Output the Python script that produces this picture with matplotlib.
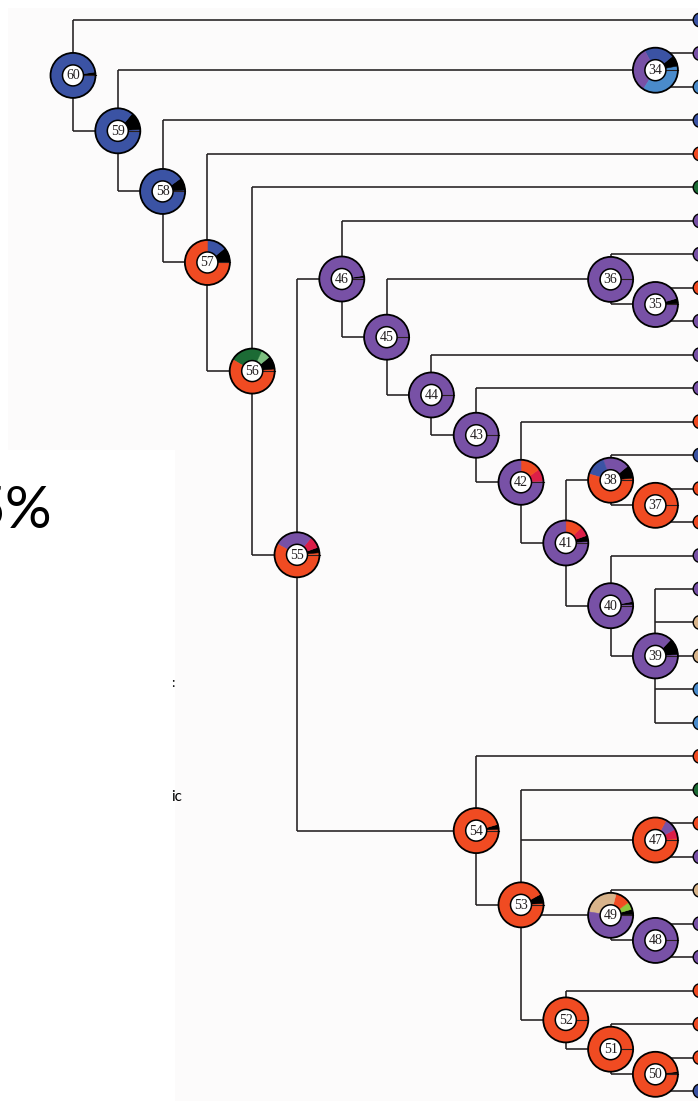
import matplotlib
matplotlib.use("Agg")
import matplotlib.pyplot as plt
from matplotlib.patches import Circle, Rectangle

# colours of the character states
BLUE = '#3b53a4'
LBLUE = '#4a8bcb'
PURPLE = '#7851a6'
ORANGE = '#f04b22'
CRIMSON = '#dc1f48'
GREEN = '#1c6b35'
LGREEN = '#7dbf80'
LIME = '#8cc63e'
TAN = '#d8b48b'
BLACK = '#000000'

# tips 1..33, top to bottom
tip_colors = [BLUE, PURPLE, LBLUE, BLUE, ORANGE, GREEN, PURPLE, PURPLE, ORANGE, PURPLE,
              PURPLE, PURPLE, ORANGE, BLUE, ORANGE, ORANGE, PURPLE, PURPLE, TAN, TAN,
              LBLUE, LBLUE, ORANGE, GREEN, ORANGE, PURPLE, TAN, PURPLE, PURPLE, ORANGE,
              ORANGE, ORANGE, BLUE]

# internal nodes and their children (top to bottom)
children = {
    60: [1, 59], 59: [34, 58], 34: [2, 3], 58: [4, 57], 57: [5, 56], 56: [6, 55],
    55: [46, 54], 46: [7, 45], 45: [36, 44], 36: [8, 35], 35: [9, 10],
    44: [11, 43], 43: [12, 42], 42: [13, 41], 41: [38, 40], 38: [14, 37],
    37: [15, 16], 40: [17, 39], 39: [18, 19, 20, 21, 22],
    54: [23, 53], 53: [24, 47, 49, 52], 47: [25, 26], 49: [27, 48], 48: [28, 29],
    52: [30, 51], 51: [31, 50], 50: [32, 33],
}
root = 60

# ancestral state probabilities, counter-clockwise from 3 o'clock
pie_colors = {
    60: [BLACK, BLUE],
    59: [BLUE, BLACK, BLUE],
    34: [LBLUE, BLACK, BLUE, PURPLE, LBLUE],
    58: [BLUE, BLACK, BLUE],
    57: [BLACK, BLUE, ORANGE],
    56: [ORANGE, BLACK, LGREEN, GREEN, ORANGE],
    55: [ORANGE, BLACK, CRIMSON, PURPLE, ORANGE],
    46: [PURPLE, BLACK, PURPLE],
    45: [PURPLE],
    36: [PURPLE],
    35: [PURPLE, BLACK, PURPLE],
    44: [PURPLE],
    43: [PURPLE],
    42: [PURPLE, CRIMSON, ORANGE, PURPLE],
    41: [PURPLE, BLACK, CRIMSON, ORANGE, PURPLE],
    38: [ORANGE, BLACK, PURPLE, BLUE, ORANGE],
    37: [ORANGE],
    40: [PURPLE, BLACK, PURPLE],
    39: [PURPLE, BLACK, PURPLE],
    54: [ORANGE, BLACK, ORANGE],
    53: [ORANGE, BLACK, ORANGE],
    47: [ORANGE, CRIMSON, PURPLE, ORANGE],
    49: [PURPLE, BLACK, LIME, ORANGE, TAN, PURPLE],
    48: [PURPLE],
    52: [ORANGE],
    51: [ORANGE],
    50: [ORANGE, BLACK, ORANGE],
}
pie_fracs = {
    60: [0.025, 0.975],
    59: [0.01, 0.13, 0.86],
    34: [0.03, 0.08, 0.22, 0.33, 0.34],
    58: [0.01, 0.09, 0.90],
    57: [0.11, 0.14, 0.75],
    56: [0.015, 0.095, 0.07, 0.235, 0.585],
    55: [0.015, 0.04, 0.085, 0.28, 0.58],
    46: [0.01, 0.015, 0.975],
    45: [1.0],
    36: [1.0],
    35: [0.005, 0.04, 0.955],
    44: [1.0],
    43: [1.0],
    42: [0.01, 0.09, 0.15, 0.75],
    41: [0.01, 0.045, 0.07, 0.125, 0.75],
    38: [0.015, 0.095, 0.195, 0.15, 0.545],
    37: [1.0],
    40: [0.01, 0.02, 0.97],
    39: [0.01, 0.12, 0.87],
    54: [0.01, 0.035, 0.955],
    53: [0.01, 0.07, 0.92],
    47: [0.01, 0.07, 0.09, 0.83],
    49: [0.005, 0.04, 0.055, 0.11, 0.265, 0.525],
    48: [1.0],
    52: [1.0],
    51: [1.0],
    50: [0.005, 0.015, 0.98],
}

# ---- layout (cladogram: x from height, y from tip order)
n_tips = len(tip_colors)
height = {}
def get_height(n):
    if n <= n_tips:
        return 0
    if n not in height:
        height[n] = 1 + max(get_height(c) for c in children[n])
    return height[n]
get_height(root)
max_h = height[root]

X0, DX = 73, 44.8          # pixel x of root and step per level
Y0, DY = 20, 33.47         # pixel y of first tip and tip spacing
pos = {}
def layout(n):
    if n <= n_tips:
        pos[n] = (X0 + DX * max_h, Y0 + DY * (n - 1))
    else:
        for c in children[n]:
            layout(c)
        ys = [pos[c][1] for c in children[n]]
        pos[n] = (X0 + DX * (max_h - height[n]), (min(ys) + max(ys)) / 2)
layout(root)

W, H = 698, 1101
fig = plt.figure(figsize=(W / 100, H / 100), dpi=100, facecolor='white')
ax = fig.add_axes([0, 0, 1, 1])

# page backgrounds (screenshot of a slide over the figure)
ax.add_patch(Rectangle((8, 8), W, H, facecolor='#fcfbfb', edgecolor='none', zorder=0))
ax.add_patch(Rectangle((0, 450), 175, H, facecolor='white', edgecolor='none', zorder=0))

line_kw = dict(color='#231f20', lw=1.15, zorder=1, solid_capstyle='butt')
for n, ch in children.items():
    x, y = pos[n]
    ys = [pos[c][1] for c in ch]
    ax.plot([x, x], [min(ys), max(ys)], **line_kw)
    for c in ch:
        ax.plot([x, pos[c][0]], [pos[c][1], pos[c][1]], **line_kw)

R_OUT, R_IN, R_TIP = 22.5, 10.5, 7
for n in children:
    x, y = pos[n]
    wedges, _ = ax.pie(pie_fracs[n], colors=pie_colors[n], center=(x, y), radius=R_OUT,
                       startangle=0, counterclock=False,
                       wedgeprops=dict(width=R_OUT - R_IN, linewidth=0.4))
    for w in wedges:
        w.set_edgecolor(w.get_facecolor())
        w.set_zorder(3)
    ax.plot([x + R_IN, x + R_OUT], [y, y], color='#2a1f1f', lw=0.8, zorder=4)
    ax.add_patch(Circle((x, y), R_OUT, fill=False, edgecolor='black', lw=1.3, zorder=5))
    ax.add_patch(Circle((x, y), R_IN, facecolor='white', edgecolor='black', lw=1.1, zorder=5))
    ax.text(x, y + 0.5, str(n), ha='center', va='center', fontsize=10,
            family='Liberation Serif', color='#231f20', zorder=6)

for i, col in enumerate(tip_colors):
    x, y = pos[i + 1]
    ax.add_patch(Circle((x, y), R_TIP, facecolor=col, edgecolor='black', lw=1.0, zorder=3))

# fragments of the overlaid slide text
ax.text(52, 512, '5%', ha='right', va='center', fontsize=42, family='Lato', color='black')
ax.text(171, 683, ':', ha='left', va='center', fontsize=10, family='Lato', color='black')
ax.text(171, 797, 'ic', ha='left', va='center', fontsize=11, family='Lato', color='black')

ax.set_xlim(0, W)
ax.set_ylim(H, 0)
ax.set_aspect('equal')
ax.axis('off')
fig.savefig('out.png', dpi=100, facecolor='white')
